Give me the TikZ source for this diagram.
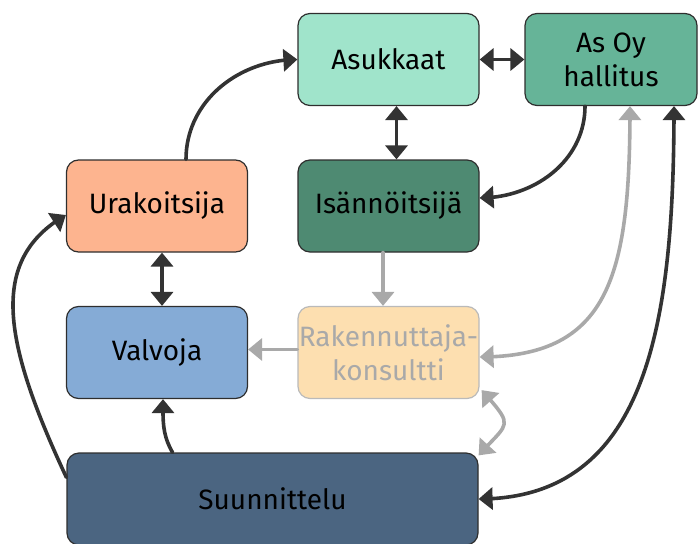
\documentclass[tikz,border=0pt]{standalone}
\usepackage{fontspec}
\setmainfont{Fira Sans}
\usepackage{xcolor}
\usepackage{tikz}
\usetikzlibrary{arrows.meta,bending,positioning}
\definecolor{edge}{HTML}{2E2E2E}
\definecolor{link}{HTML}{333333}
\definecolor{faint}{HTML}{A9A9A9}
\definecolor{mint}{HTML}{A0E4CB}
\definecolor{sea}{HTML}{66B498}
\definecolor{salmon}{HTML}{FDB48F}
\definecolor{pine}{HTML}{4E8A72}
\definecolor{sky}{HTML}{85ABD6}
\definecolor{sand}{HTML}{FDDFB0}
\definecolor{slate}{HTML}{4B6581}
\tikzset{
  Box/.style={
    draw=edge, line width=1.2pt, rounded corners=12pt,
    minimum width=181pt, minimum height=92pt, inner sep=0pt,
    align=center, font=\fontsize{28}{34}\selectfont
  },
  Link/.style={
    draw=link, line width=3.6pt,
    -{Triangle[width=22pt,length=14pt]}
  },
  BiLink/.style={
    Link, {Triangle[width=22pt,length=14pt]}-{Triangle[width=22pt,length=14pt]}
  },
  Faint/.style={draw=faint}
}

\begin{document}
\begin{tikzpicture}[x=1pt, y=-1pt, line cap=round, line join=round]
  \useasboundingbox (0,0) rectangle (698,543);

  % parties
  \node[Box, fill=mint] (Asu) at (388.5,59.5) {Asukkaat};
  \node[Box, fill=sea, minimum width=172pt] (Hal) at (611,59.5) {As Oy\\hallitus};
  \node[Box, fill=salmon] (Ura) at (157,206) {Urakoitsija};
  \node[Box, fill=pine] (Isa) at (388.5,206) {Isännöitsijä};
  \node[Box, fill=sky] (Val) at (157,352.5) {Valvoja};
  \node[Box, fill=sand, draw=faint!80, text=faint] (Rak) at (388.5,352.5) {Rakennuttaja-\\konsultti};
  \node[Box, fill=slate, minimum width=411pt] (Suu) at (272.5,499) {Suunnittelu};

  % dark links
  \draw[Link] ([xshift=29pt]Ura.north) to[out=90,in=180] (Asu.west);
  \draw[BiLink] (Asu.east) -- (Hal.west);
  \draw[BiLink] ([xshift=8pt]Asu.south) -- ([xshift=8pt]Isa.north);
  \draw[Link] ([xshift=-26pt]Hal.south) to[out=-90,in=0] ([yshift=8pt]Isa.east);
  \draw[BiLink] ([xshift=5pt]Ura.south) -- ([xshift=5pt]Val.north);
  \draw[Link] ([xshift=-100pt]Suu.north) to[out=120,in=-90] ([xshift=6pt]Val.south);
  \draw[Link] ([yshift=-25pt]Suu.north west)
    to[out=115,in=210,out distance=150pt,in distance=90pt] ([yshift=-9pt]Ura.west);
  \draw[BiLink] (Suu.east) .. controls +(170,0) and +(0,215) .. ([xshift=63pt]Hal.south);

  % grey links of the consultant
  \draw[Link, Faint] ([xshift=-5.5pt]Isa.south) -- ([xshift=-5.5pt]Rak.north);
  \draw[Link, Faint] ([yshift=3pt]Rak.west) -- ([yshift=3pt]Val.east);
  \draw[BiLink, Faint] ([yshift=-4.5pt]Rak.east) .. controls +(130,0) and +(0,170) .. ([xshift=19pt]Hal.south);
  \draw[BiLink, Faint] ([xshift=2pt,yshift=9pt]Rak.south east)
    .. controls +(34,38) and +(30,-34) .. ([yshift=-3pt]Suu.north east);
\end{tikzpicture}
\end{document}
